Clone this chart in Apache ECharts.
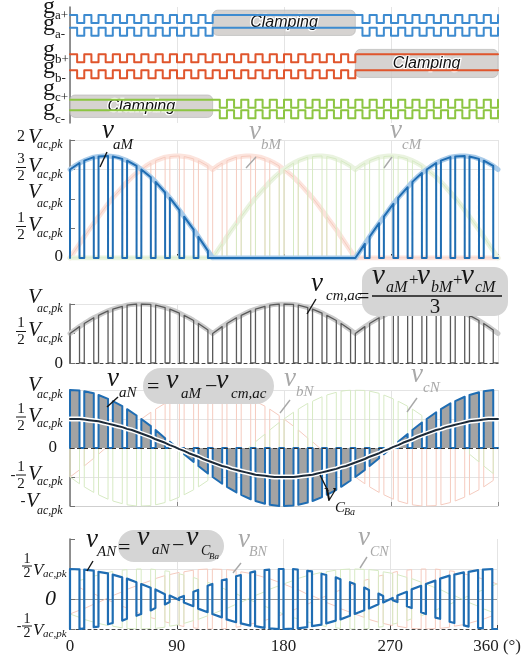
<!DOCTYPE html>
<html><head><meta charset="utf-8">
<script src="https://cdn.jsdelivr.net/npm/echarts@6/dist/echarts.min.js"></script>
<style>html,body{margin:0;padding:0;background:#fff}#c{width:524px;height:656px}</style>
</head><body><div id="c"></div>
<script>
// ---------------- DATA ----------------
const angles = [0,4,8,12,16,20,24,28,32,36,40,44,48,52,56,60,64,68,72,76,80,84,88,92,96,100,104,108,112,116,120,124,128,132,136,140,144,148,152,156,160,164,168,172,176,180,184,188,192,196,200,204,208,212,216,220,224,228,232,236,240,244,248,252,256,260,264,268,272,276,280,284,288,292,296,300,304,308,312,316,320,324,328,332,336,340,344,348,352,356,360];
// pole voltages (units of Vac,pk)
const vaM = [1.5,1.56,1.61,1.65,1.68,1.71,1.72,1.73,1.73,1.72,1.71,1.68,1.65,1.61,1.56,1.5,1.44,1.37,1.29,1.2,1.11,1.02,0.92,0.81,0.7,0.59,0.48,0.36,0.24,0.12,0,
 0,0,0,0,0,0,0,0,0,0,0,0,0,0,0,0,0,0,0,0,0,0,0,0,0,0,0,0,0,
 0,0.12,0.24,0.36,0.48,0.59,0.7,0.81,0.92,1.02,1.11,1.2,1.29,1.37,1.44,1.5,1.56,1.61,1.65,1.68,1.71,1.72,1.73,1.73,1.72,1.71,1.68,1.65,1.61,1.56,1.5];
const vbM = [0,0.12,0.24,0.36,0.48,0.59,0.7,0.81,0.92,1.02,1.11,1.2,1.29,1.37,1.44,1.5,1.56,1.61,1.65,1.68,1.71,1.72,1.73,1.73,1.72,1.71,1.68,1.65,1.61,1.56,1.5,
 1.56,1.61,1.65,1.68,1.71,1.72,1.73,1.73,1.72,1.71,1.68,1.65,1.61,1.56,1.5,1.44,1.37,1.29,1.2,1.11,1.02,0.92,0.81,0.7,0.59,0.48,0.36,0.24,0.12,0,
 0,0,0,0,0,0,0,0,0,0,0,0,0,0,0,0,0,0,0,0,0,0,0,0,0,0,0,0,0,0];
const vcM = [0,0,0,0,0,0,0,0,0,0,0,0,0,0,0,0,0,0,0,0,0,0,0,0,0,0,0,0,0,0,0,
 0.12,0.24,0.36,0.48,0.59,0.7,0.81,0.92,1.02,1.11,1.2,1.29,1.37,1.44,1.5,1.56,1.61,1.65,1.68,1.71,1.72,1.73,1.73,1.72,1.71,1.68,1.65,1.61,1.56,1.5,
 1.56,1.61,1.65,1.68,1.71,1.72,1.73,1.73,1.72,1.71,1.68,1.65,1.61,1.56,1.5,1.44,1.37,1.29,1.2,1.11,1.02,0.92,0.81,0.7,0.59,0.48,0.36,0.24,0.12,0];
// capacitor voltages
const vCBa = [0.5,0.5,0.5,0.49,0.48,0.47,0.46,0.44,0.42,0.4,0.38,0.36,0.33,0.31,0.28,0.25,0.22,0.19,0.15,0.12,0.09,0.05,0.02,-0.02,-0.05,-0.09,-0.12,-0.15,-0.19,-0.22,
 -0.25,-0.28,-0.31,-0.33,-0.36,-0.38,-0.4,-0.42,-0.44,-0.46,-0.47,-0.48,-0.49,-0.5,-0.5,-0.5,-0.5,-0.5,-0.49,-0.48,-0.47,-0.46,-0.44,-0.42,-0.4,-0.38,-0.36,-0.33,-0.31,-0.28,
 -0.25,-0.22,-0.19,-0.15,-0.12,-0.09,-0.05,-0.02,0.02,0.05,0.09,0.12,0.15,0.19,0.22,0.25,0.28,0.31,0.33,0.36,0.38,0.4,0.42,0.44,0.46,0.47,0.48,0.49,0.5,0.5,0.5];
const vCBb = [-0.25,-0.22,-0.19,-0.15,-0.12,-0.09,-0.05,-0.02,0.02,0.05,0.09,0.12,0.15,0.19,0.22,0.25,0.28,0.31,0.33,0.36,0.38,0.4,0.42,0.44,0.46,0.47,0.48,0.49,0.5,0.5,0.5,
 0.5,0.5,0.49,0.48,0.47,0.46,0.44,0.42,0.4,0.38,0.36,0.33,0.31,0.28,0.25,0.22,0.19,0.15,0.12,0.09,0.05,0.02,-0.02,-0.05,-0.09,-0.12,-0.15,-0.19,-0.22,-0.25,
 -0.28,-0.31,-0.33,-0.36,-0.38,-0.4,-0.42,-0.44,-0.46,-0.47,-0.48,-0.49,-0.5,-0.5,-0.5,-0.5,-0.5,-0.49,-0.48,-0.47,-0.46,-0.44,-0.42,-0.4,-0.38,-0.36,-0.33,-0.31,-0.28,-0.25];
const vCBc = [-0.25,-0.28,-0.31,-0.33,-0.36,-0.38,-0.4,-0.42,-0.44,-0.46,-0.47,-0.48,-0.49,-0.5,-0.5,-0.5,-0.5,-0.5,-0.49,-0.48,-0.47,-0.46,-0.44,-0.42,-0.4,-0.38,-0.36,-0.33,-0.31,-0.28,
 -0.25,-0.22,-0.19,-0.15,-0.12,-0.09,-0.05,-0.02,0.02,0.05,0.09,0.12,0.15,0.19,0.22,0.25,0.28,0.31,0.33,0.36,0.38,0.4,0.42,0.44,0.46,0.47,0.48,0.49,0.5,0.5,0.5,
 0.5,0.5,0.49,0.48,0.47,0.46,0.44,0.42,0.4,0.38,0.36,0.33,0.31,0.28,0.25,0.22,0.19,0.15,0.12,0.09,0.05,0.02,-0.02,-0.05,-0.09,-0.12,-0.15,-0.19,-0.22,-0.25];
// clamping intervals (deg) for phases a, b, c
const clampA = [120, 240];
const clampB = [240, 360];
const clampC = [0, 120];
// axis ticks
const xTicks = [0, 90, 180, 270, 360];
const xTickLabels = ['0', '90', '180', '270', '360 (°)'];
const yTicks1 = [0, 0.5, 1, 1.5, 2];
const yTickLabels1 = ['0', '1/2 V', 'V', '3/2 V', '2 V'];
const yTicks2 = [0, 0.5, 1];
const yTickLabels2 = ['0', '1/2 V', 'V'];
const yTicks3 = [-1, -0.5, 0, 0.5, 1];
const yTickLabels3 = ['-V', '-1/2 V', '0', '1/2 V', 'V'];
const yTicks4 = [-0.5, 0, 0.5];
const yTickLabels4 = ['-1/2 V', '0', '1/2 V'];

[vaM,vbM,vcM,vCBa,vCBb,vCBc].forEach((a,i)=>{ if(a.length!==angles.length) throw new Error('len '+i+' '+a.length); });

// ---------------- DERIVED (per chart formulas) ----------------
const zero = angles.map(() => 0);
const vcm = angles.map((_, i) => (vaM[i] + vbM[i] + vcM[i]) / 3);
const vaN = angles.map((_, i) => vaM[i] - vcm[i]);
const vbN = angles.map((_, i) => vbM[i] - vcm[i]);
const vcN = angles.map((_, i) => vcM[i] - vcm[i]);
const neg = a => a.map(v => -v);
const sub = (a, b) => a.map((v, i) => v - b[i]);

function pulseTrain(on, off) {
  const pts = [];
  for (let i = 0; i + 3 < angles.length; i += 3) {
    pts.push([angles[i], off[i]], [angles[i], on[i]], [angles[i + 2], on[i + 2]],
             [angles[i + 2], off[i + 2]], [angles[i + 3], off[i + 3]]);
  }
  return pts;
}
function gateTrain(clamp, lo, hi) {
  const pts = [];
  for (let i = 0; i + 3 < angles.length; i += 3) {
    const a0 = angles[i], a3 = angles[i + 3], m = (a0 + a3) / 2;
    if (a0 >= clamp[0] && a3 <= clamp[1]) pts.push([a0, hi], [a3, hi]);
    else pts.push([a0, hi], [m, hi], [m, lo], [a3, lo], [a3, hi]);
  }
  return pts;
}
const env = arr => angles.map((a, i) => [a, arr[i]]);

// ---------------- STYLE ----------------
const SERIF = '"Liberation Serif", "DejaVu Serif", serif';
const SANS = '"Liberation Sans", Arial, sans-serif';
const INK = '#151515', FADE = '#a8a8a8', BOX = '#d5d5d5', GRIDC = '#e4e4e4', AX = '#707070';
const BLUE = '#1f6db3', GBLUE = '#3d8bd0', GRED = '#e0552c', GGREEN = '#8cc541';
const PINK = '#f5cbbf', LGREEN = '#d7eac4';

const rows = { ap: [12.5, 13.5], am: [10.9, 11.9], bp: [7.6, 8.6], bm: [5.6, 6.6], cp: [1.9, 2.9], cm: [0.6, 1.6] };
const boxes = [
  [clampA[0], clampA[1], rows.ap[1] + 0.6, rows.am[1] - 0.95],
  [clampB[0], clampB[1], rows.bp[1] + 0.6, rows.bm[1] - 0.9],
  [clampC[0], clampC[1], rows.cp[1] + 0.6, rows.cm[1] - 0.9]
];

const grids = [
  { left: 70, width: 428, top: 7, height: 116 },
  { left: 70, width: 428, top: 140, height: 118 },
  { left: 70, width: 428, top: 304, height: 59 },
  { left: 70, width: 428, top: 390, height: 116 },
  { left: 70, width: 428, top: 539, height: 90 }
];
function xAx(gi, o) {
  return Object.assign({ type: 'value', gridIndex: gi, min: 0, max: 360, interval: 90,
    axisLabel: { show: false }, axisTick: { show: false }, axisLine: { show: false, onZero: false },
    splitLine: { show: true, lineStyle: { color: GRIDC, width: 1 } } }, o || {});
}
function yAx(gi, min, max, interval, splitColors, o) {
  return Object.assign({ type: 'value', gridIndex: gi, min, max, interval,
    axisLabel: { show: false },
    axisLine: { show: true, onZero: false, lineStyle: { color: AX, width: 1.5 } },
    axisTick: { show: true, inside: true, length: 5, lineStyle: { color: AX } },
    splitLine: { show: !!splitColors, lineStyle: { color: splitColors || GRIDC, width: 1 } } }, o || {});
}
function ln(gi, data, color, width, z, extra) {
  return Object.assign({ type: 'line', xAxisIndex: gi, yAxisIndex: gi, data, showSymbol: false, symbol: 'none',
    silent: true, z, animation: false, lineStyle: { color, width, cap: 'round', join: 'round' }, itemStyle: { color },
    emphasis: { disabled: true } }, extra || {});
}

const T_ = 'transparent';
const option = {
  animation: false,
  grid: grids,
  xAxis: [
    xAx(0),
    xAx(1, { axisLine: { show: true, onZero: false, lineStyle: { color: '#333', width: 2 } }, axisTick: { show: true, inside: true, length: 4, lineStyle: { color: '#333' } } }),
    xAx(2, { axisLine: { show: true, onZero: false, lineStyle: { color: '#444', width: 1, type: [3, 3] } } }),
    xAx(3, { axisLine: { show: true, onZero: false, lineStyle: { color: '#cfcfcf', width: 1 } }, axisTick: { show: true, inside: true, length: 4, lineStyle: { color: '#888' } } }),
    xAx(4, { axisLine: { show: true, onZero: false, lineStyle: { color: '#444', width: 1, type: [3, 3] } },
      axisTick: { show: true, inside: true, length: 4, lineStyle: { color: '#444' } },
      axisLabel: { show: true, fontFamily: 'Liberation Serif', fontSize: 17, color: '#222', margin: 9,
        formatter: v => { const k = xTicks.indexOf(v); return k >= 0 ? xTickLabels[k] : ''; } } })
  ],
  yAxis: [
    yAx(0, 0, 14.5, 14.5, null, { axisTick: { show: false } }),
    yAx(1, 0, 2, 0.5, [T_, T_, T_, GRIDC, GRIDC]),
    yAx(2, 0, 1, 0.5, [T_, T_, GRIDC]),
    yAx(3, -1, 1, 0.5, [GRIDC, GRIDC, T_, GRIDC, GRIDC]),
    yAx(4, -0.5, 1, 0.5, [T_, '#9a9a9a', GRIDC, T_])
  ],
  series: [
    // gating panel
    { type: 'custom', xAxisIndex: 0, yAxisIndex: 0, data: boxes, silent: true, z: 1,
      renderItem: (params, api) => {
        const p0 = api.coord([api.value(0), api.value(2)]);
        const p1 = api.coord([api.value(1), api.value(3)]);
        return { type: 'group', children: [
          { type: 'rect', shape: { x: p0[0], y: p0[1], width: p1[0] - p0[0], height: p1[1] - p0[1], r: 5 },
            style: { fill: 'rgba(204,200,197,0.8)', stroke: 'rgba(185,185,185,0.7)', lineWidth: 1 } },
          { type: 'text', z2: 10, style: { text: 'Clamping', x: (p0[0] + p1[0]) / 2, y: (p0[1] + p1[1]) / 2,
            align: 'center', verticalAlign: 'middle', font: 'italic 16px ' + SANS, fill: '#111', stroke: '#fff', lineWidth: 2.5 } }
        ] };
      } },
    ln(0, gateTrain(clampA, rows.ap[0], rows.ap[1]), GBLUE, 2, 3),
    ln(0, gateTrain(clampA, rows.am[0], rows.am[1]), GBLUE, 2, 3),
    ln(0, gateTrain(clampB, rows.bp[0], rows.bp[1]), GRED, 2, 3),
    ln(0, gateTrain(clampB, rows.bm[0], rows.bm[1]), GRED, 2, 3),
    ln(0, gateTrain(clampC, rows.cp[0], rows.cp[1]), GGREEN, 2, 3),
    ln(0, gateTrain(clampC, rows.cm[0], rows.cm[1]), GGREEN, 2, 3),
    // panel 1: pole voltages
    ln(1, env(vbM), '#fce4dd', 5, 1),
    ln(1, env(vcM), '#eaf3e0', 5, 1),
    ln(1, pulseTrain(vbM, zero), PINK, 1, 2),
    ln(1, pulseTrain(vcM, zero), LGREEN, 1, 2),
    ln(1, env(vaM), '#a9cbe9', 5, 3),
    ln(1, pulseTrain(vaM, zero), BLUE, 2, 4),
    // panel 2: common mode
    ln(2, env(vcm), '#cbcbcb', 5, 2),
    ln(2, pulseTrain(vcm, zero), '#595959', 1.3, 3),
    // panel 3
    ln(3, pulseTrain(vbN, zero), PINK, 1, 2, { markLine: { silent: true, symbol: 'none', label: { show: false },
      lineStyle: { color: '#333', width: 1, type: [4, 3] }, data: [{ yAxis: 0 }] } }),
    ln(3, pulseTrain(vcN, zero), LGREEN, 1, 2),
    ln(3, pulseTrain(vaN, zero), BLUE, 2, 4, { areaStyle: { color: '#a3a3a3', opacity: 1, origin: 0 } }),
    ln(3, env(vCBa), '#ffffff', 5, 5),
    ln(3, env(vCBa), '#1d2a38', 2, 6),
    // panel 4
    ln(4, pulseTrain(sub(vbN, vCBb), neg(vCBb)), PINK, 1, 2),
    ln(4, pulseTrain(sub(vcN, vCBc), neg(vCBc)), LGREEN, 1, 2),
    ln(4, pulseTrain(sub(vaN, vCBa), neg(vCBa)), BLUE, 2.2, 4)
  ]
};

const chart = echarts.init(document.getElementById('c'), null, { renderer: 'canvas' });
chart.setOption(option);

// ---------------- TEXT LAYER ----------------
function T(x, y, text, size, o) {
  o = o || {};
  const st = { text, font: (o.italic ? 'italic ' : '') + size + 'px ' + (o.family || SERIF), fill: o.color || INK,
    align: o.align || 'left', verticalAlign: 'middle', textAlign: o.align || 'left', textVerticalAlign: 'middle' };
  if (o.stroke) { st.stroke = o.stroke; st.lineWidth = o.lw || 2; }
  return { type: 'text', x, y, z: 60, silent: true, style: st };
}
const mid = (base, size) => base - 0.34 * size;
function B(x, base, text, size, o) { return T(x, mid(base, size), text, size, Object.assign({ italic: true }, o || {})); }
function U(x, base, text, size, o) { return T(x, mid(base, size), text, size, o || {}); }
function Ln(x1, y1, x2, y2, color, w) { return { type: 'line', z: 60, silent: true, shape: { x1, y1, x2, y2 }, style: { stroke: color || INK, lineWidth: w || 1.4 } }; }
function R(x, y, w, h, r) { return { type: 'rect', z: 55, silent: true, shape: { x, y, width: w, height: h, r }, style: { fill: BOX } }; }
const G = { color: FADE };

const elems = [
  // gate labels
  U(43, 15, 'g', 24), U(55, 20, 'a+', 13),
  U(43, 32, 'g', 24), U(55, 39, 'a-', 13),
  U(43, 58, 'g', 24), U(55, 64, 'b+', 13),
  U(43, 75, 'g', 24), U(55, 83, 'b-', 13),
  U(43, 97, 'g', 24), U(55, 102, 'c+', 13),
  U(43, 117, 'g', 24), U(55, 124, 'c-', 13),
  // panel 1
  B(102, 140, 'v', 27), B(113, 150, 'aM', 15), Ln(107, 152, 100, 167),
  B(249, 141, 'v', 27, G), B(261, 150, 'bM', 15, G), Ln(256, 157, 246, 168, FADE),
  B(390, 140, 'v', 27, G), B(402, 150, 'cM', 15, G), Ln(392, 157, 384, 168, FADE),
  // panel 2
  B(311, 293, 'v', 27), B(326, 301, 'cm,ac', 15), Ln(316, 299, 307, 314),
  R(362, 267, 146, 49, 14),
  T(357, 297, '=', 22),
  B(372, 286, 'v', 29), B(386, 293, 'aM', 16), T(409, 281, '+', 17),
  B(417, 286, 'v', 29), B(431, 293, 'bM', 16), T(453, 281, '+', 17),
  B(461, 286, 'v', 29), B(475, 293, 'cM', 16),
  Ln(372, 296, 502, 296, INK, 1.3),
  T(435, 307, '3', 21, { align: 'center' }),
  // panel 3
  B(107, 388, 'v', 27), B(119, 398, 'aN', 15), Ln(118, 397, 107, 407),
  R(143, 368, 131, 36, 18),
  T(147, 387, '=', 22), B(166, 390, 'v', 28), B(181, 399, 'aM', 15),
  T(205, 387, '\u2212', 22), B(216, 390, 'v', 28), B(231, 399, 'cm,ac', 15),
  B(284, 388, 'v', 27, G), B(296, 397, 'bN', 15, G), Ln(290, 400, 280, 413, FADE),
  B(411, 384, 'v', 27, G), B(423, 393, 'cN', 15, G), Ln(417, 398, 407, 412, FADE),
  B(324, 503, 'v', 27), B(335, 513, 'C', 15), B(344, 516, 'Ba', 10), Ln(320, 475, 328, 491),
  // panel 4
  B(86, 549, 'v', 27), B(97, 557, 'AN', 15), Ln(93, 561, 87, 571),
  R(118, 530, 106, 32, 16),
  T(118, 548, '=', 22), B(137, 547, 'v', 28), B(152, 555, 'aN', 15),
  T(172, 546, '\u2212', 22), B(186, 547, 'v', 28), B(201, 556, 'C', 14), B(209, 560, 'Ba', 9),
  B(238, 549, 'v', 27, G), B(249, 557, 'BN', 14, G), Ln(241, 563, 233, 573, FADE),
  B(358, 547, 'v', 27, G), B(370, 557, 'CN', 14, G), Ln(367, 557, 360, 568, FADE)
];

const P123 = { fracX: 21, VX: 28, subX: 37, zeroX: 63, zeroDy: -1, zeroSize: 17, fracSize: 15, vSize: 21, subSize: 12,
  numDy: -10, denDy: 7, barDy: -2, vDy: -3, vAloneDy: -7, subDy: 5 };
const P4 = { fracX: 27, VX: 33, subX: 43, zeroX: 56, zeroDy: 0, zeroSize: 22, zeroItalic: true, fracSize: 14, vSize: 17, subSize: 11,
  numDy: -10, denDy: 4, barDy: -3, vDy: 2, vAloneDy: 2, subDy: 5 };
function yLabelElems(gi, ticks, labels, L) {
  const out = [];
  ticks.forEach((v, i) => {
    const s = labels[i];
    const py = chart.convertToPixel({ gridIndex: gi }, [0, v])[1];
    if (s === '0') { out.push(T(L.zeroX, py + L.zeroDy, '0', L.zeroSize, { align: 'right', italic: L.zeroItalic })); return; }
    const m = s.match(/^(-?)(?:(\d+)\/(\d+)|(\d+))?\s*V$/);
    const sign = m[1], num = m[2], den = m[3], whole = m[4];
    const hasNum = !!(num || whole);
    if (num) {
      out.push(T(L.fracX, py + L.numDy, num, L.fracSize, { align: 'center' }));
      out.push(T(L.fracX, py + L.denDy, den, L.fracSize, { align: 'center' }));
      out.push(Ln(L.fracX - 5, py + L.barDy, L.fracX + 5, py + L.barDy, INK, 1));
    }
    if (whole) out.push(T(L.fracX, py + L.vDy, whole, L.fracSize + 1, { align: 'center' }));
    const vdy = hasNum ? L.vDy : L.vAloneDy;
    let vx = L.VX;
    if (sign) {
      if (hasNum) out.push(T(L.fracX - 8, py + L.barDy, '-', L.fracSize, { align: 'center' }));
      else { out.push(T(L.VX - 5, py + vdy, '-', L.fracSize, { align: 'center' })); vx = L.VX - 2; }
    }
    out.push(T(vx, py + vdy, 'V', L.vSize, { italic: true }));
    out.push(T(L.subX, py + L.subDy, 'ac,pk', L.subSize, { italic: true }));
  });
  return out;
}
const ylab = [].concat(
  yLabelElems(1, yTicks1, yTickLabels1, P123),
  yLabelElems(2, yTicks2, yTickLabels2, Object.assign({}, P123, { zeroDy: 1 })),
  yLabelElems(3, yTicks3, yTickLabels3, Object.assign({}, P123, { zeroX: 57, zeroDy: 0, vAloneDy: -5 })),
  yLabelElems(4, yTicks4, yTickLabels4, P4)
);
chart.setOption({ graphic: elems.concat(ylab) });
</script>
</body></html>
